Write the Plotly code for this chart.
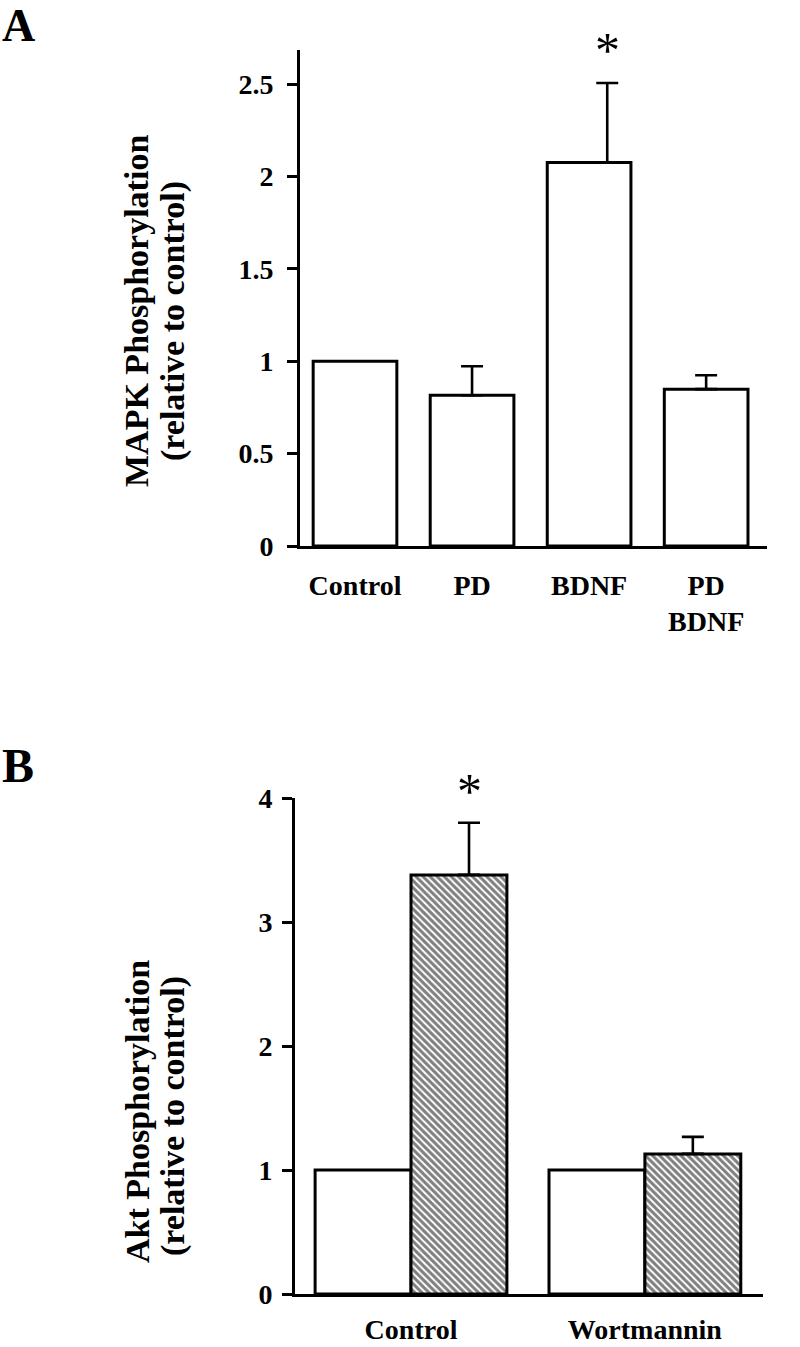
import plotly.graph_objects as go

# Panel A data
a_categories = ["Control", "PD", "BDNF", "PD<br>BDNF"]
a_values = [1.0, 0.816, 2.076, 0.849]
a_errors = [0.0, 0.157, 0.43, 0.075]
a_ticks = [0, 0.5, 1, 1.5, 2, 2.5]
a_tick_labels = ["0", "0.5", "1", "1.5", "2", "2.5"]

# Panel B data
b_categories = ["Control", "Wortmannin"]
b_white_values = [1.0, 1.0]
b_hatched_values = [3.38, 1.13]
b_hatched_errors = [0.42, 0.137]
b_ticks = [0, 1, 2, 3, 4]
b_tick_labels = ["0", "1", "2", "3", "4"]

FONT = "Liberation Serif, Times New Roman, serif"
LW = 3
W, H = 800, 1347

fig = go.Figure()

a_x = list(range(len(a_categories)))
fig.add_trace(go.Bar(
    x=a_x, y=a_values, width=0.715,
    marker=dict(color="white", line=dict(color="black", width=LW)),
    xaxis="x", yaxis="y", showlegend=False,
))
# error bars (upper only); the BDNF bar's error bar sits right of centre in the original
a_err_shift = [0.0, 0.0, 0.155, 0.0]
idx = [i for i in range(len(a_errors)) if a_errors[i] > 0]
fig.add_trace(go.Scatter(
    x=[a_x[i] + a_err_shift[i] for i in idx],
    y=[a_values[i] for i in idx],
    mode="markers", marker=dict(size=1, color="rgba(0,0,0,0)"),
    error_y=dict(type="data", symmetric=False,
                 array=[a_errors[i] for i in idx], arrayminus=[0] * len(idx),
                 color="black", thickness=2.6, width=11),
    xaxis="x", yaxis="y", showlegend=False, hoverinfo="skip",
))

b_x = list(range(len(b_categories)))
bw = 0.41
fig.add_trace(go.Bar(
    x=b_x, y=b_white_values, width=bw, offset=-bw,
    marker=dict(color="white", line=dict(color="black", width=LW)),
    xaxis="x2", yaxis="y2", showlegend=False,
))
fig.add_trace(go.Bar(
    x=b_x, y=b_hatched_values, width=bw, offset=0,
    marker=dict(color="white", line=dict(color="black", width=LW),
                pattern=dict(shape="\\", fgcolor="black", bgcolor="white",
                             size=5, solidity=0.6)),
    xaxis="x2", yaxis="y2", showlegend=False,
))
b_err_shift = [0.043, 0.0]
b_err_x = [x + bw / 2 + s for x, s in zip(b_x, b_err_shift)]
fig.add_trace(go.Scatter(
    x=b_err_x, y=b_hatched_values, mode="markers",
    marker=dict(size=1, color="rgba(0,0,0,0)"),
    error_y=dict(type="data", symmetric=False, array=b_hatched_errors,
                 arrayminus=[0, 0], color="black", thickness=2.6, width=11),
    xaxis="x2", yaxis="y2", showlegend=False, hoverinfo="skip",
))

ytickfont = dict(family=FONT, size=28, color="black", weight="bold")
xtickfont = dict(family=FONT, size=28, color="black", weight="bold")


def ann_title(text, x, y):
    return dict(text=text, x=x / W, y=1 - y / H, xref="paper", yref="paper",
                xanchor="center", yanchor="middle", textangle=-90,
                showarrow=False,
                font=dict(family=FONT, size=34, color="black", weight="bold"))


fig.update_layout(
    width=W, height=H,
    margin=dict(l=0, r=0, t=0, b=0, pad=0, autoexpand=False),
    paper_bgcolor="white", plot_bgcolor="white",
    xaxis=dict(domain=[300 / W, 767 / W], range=[-0.47, 3.52], anchor="y",
               tickvals=a_x, ticktext=a_categories,
               showline=True, linewidth=LW, linecolor="black",
               ticks="", showgrid=False, zeroline=False,
               tickfont=xtickfont, ticklabelstandoff=12),
    yaxis=dict(domain=[1 - 546 / H, 1 - 50 / H], range=[0, 2.685], anchor="x",
               tickvals=a_ticks, ticktext=a_tick_labels,
               showline=True, linewidth=LW, linecolor="black",
               ticks="outside", ticklen=10, tickwidth=2.5, tickcolor="black",
               showgrid=False, zeroline=False, tickfont=ytickfont,
               ticklabelstandoff=8),
    xaxis2=dict(domain=[295 / W, 763 / W], range=[-0.496, 1.505], anchor="y2",
                tickvals=b_x, ticktext=b_categories,
                showline=True, linewidth=LW, linecolor="black",
                ticks="", showgrid=False, zeroline=False,
                tickfont=xtickfont, ticklabelstandoff=8),
    yaxis2=dict(domain=[1 - 1294 / H, 1 - 798 / H], range=[0, 4], anchor="x2",
                tickvals=b_ticks, ticktext=b_tick_labels,
                showline=True, linewidth=LW, linecolor="black",
                ticks="outside", ticklen=10, tickwidth=2.5, tickcolor="black",
                showgrid=False, zeroline=False, tickfont=ytickfont,
                ticklabelstandoff=4),
    annotations=[
        dict(text="A", x=0, y=1 + 2.5 / H, xref="paper", yref="paper",
             xanchor="left", yanchor="top", showarrow=False,
             font=dict(family=FONT, size=46, color="black", weight="bold")),
        dict(text="B", x=0, y=1 - 737 / H, xref="paper", yref="paper",
             xanchor="left", yanchor="top", showarrow=False,
             font=dict(family=FONT, size=48, color="black", weight="bold")),
        ann_title("MAPK Phosphorylation", 137, 311),
        ann_title("(relative to control)", 173, 321),
        ann_title("Akt Phosphorylation", 137, 1112),
        ann_title("(relative to control)", 173, 1116),
        dict(text="*", x=a_x[2] + a_err_shift[2], y=1 - 20.5 / H,
             xref="x", yref="paper", xanchor="center", yanchor="top",
             showarrow=False, font=dict(family=FONT, size=50, color="black")),
        dict(text="*", x=b_err_x[0], y=1 - 760.5 / H,
             xref="x2", yref="paper", xanchor="center", yanchor="top",
             showarrow=False, font=dict(family=FONT, size=50, color="black")),
    ],
)

fig.write_html("out.html", config={"displayModeBar": False},
               post_script="document.body.style.margin='0';")
